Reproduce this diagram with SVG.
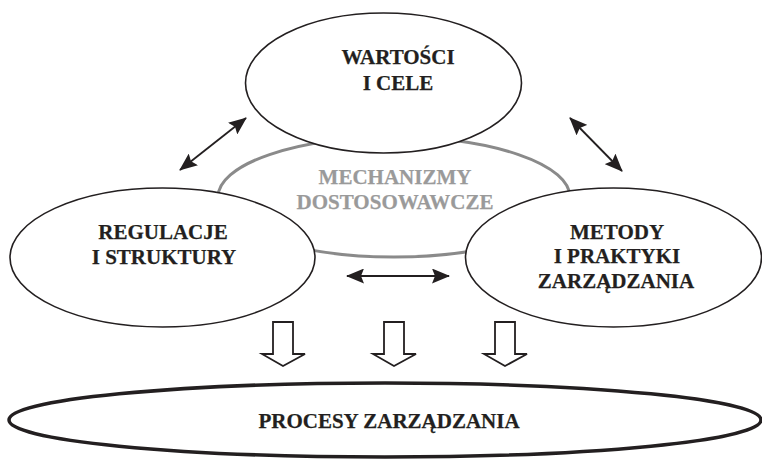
<svg xmlns="http://www.w3.org/2000/svg" width="762" height="459" viewBox="0 0 762 459">
<defs>
<style>
.node{fill:#fff;stroke:#231f20;stroke-width:1.6}
.t{font-family:"Liberation Serif","Times New Roman",serif;font-weight:bold;font-size:21px;fill:#231f20;text-anchor:middle;stroke:#231f20;stroke-width:0.25}
.g{fill:#9a9a9a;stroke:#9a9a9a}
.conn{stroke:#231f20;stroke-width:1.8;fill:none}
.block{fill:#fff;stroke:#231f20;stroke-width:1.8;stroke-linejoin:miter}
</style>
<marker id="ah" viewBox="0 0 18 15" refX="17" refY="7.5" markerWidth="18" markerHeight="15" markerUnits="userSpaceOnUse" orient="auto-start-reverse">
<path d="M0,0 L18,7.5 L0,15 L3,7.5 Z" fill="#231f20"/>
</marker>
</defs>
<rect width="762" height="459" fill="#fff"/>
<g id="mechanizmy">
<ellipse cx="394" cy="197" rx="176" ry="60" fill="none" stroke="#8a8a8a" stroke-width="3"/>
</g>
<g id="wartosci">
<ellipse class="node" cx="383.5" cy="83" rx="138" ry="70"/>
<text class="t" x="398" y="64">WARTOŚCI</text>
<text class="t" x="398" y="90">I CELE</text>
</g>
<g id="mechanizmy-label">
<text class="t g" x="395" y="184">MECHANIZMY</text>
<text class="t g" x="395" y="209">DOSTOSOWAWCZE</text>
</g>
<g id="regulacje">
<ellipse class="node" cx="162.5" cy="257.5" rx="152.5" ry="69.5"/>
<text class="t" x="163" y="239">REGULACJE</text>
<text class="t" x="164" y="264">I STRUKTURY</text>
</g>
<g id="metody">
<ellipse class="node" cx="613.5" cy="257.5" rx="148" ry="69.5"/>
<text class="t" x="617" y="239">METODY</text>
<text class="t" x="617" y="263">I PRAKTYKI</text>
<text class="t" x="616" y="288">ZARZĄDZANIA</text>
</g>
<g id="procesy">
<ellipse cx="385" cy="420" rx="376" ry="37" fill="#fff" stroke="#231f20" stroke-width="3.5"/>
<text class="t" x="389" y="428">PROCESY ZARZĄDZANIA</text>
</g>
<g id="connectors">
<line class="conn" x1="180" y1="170" x2="246" y2="118" marker-start="url(#ah)" marker-end="url(#ah)"/>
<line class="conn" x1="570" y1="118" x2="622" y2="171" marker-start="url(#ah)" marker-end="url(#ah)"/>
<line class="conn" x1="347" y1="276" x2="449" y2="276" marker-start="url(#ah)" marker-end="url(#ah)"/>
<path class="block" d="M273,322 H293 V354 H305 L283,366 L262,354 H273 Z"/>
<path class="block" d="M384,322 H404 V354 H416 L394,366 L373,354 H384 Z"/>
<path class="block" d="M495,322 H515 V354 H527 L505,366 L484,354 H495 Z"/>
</g>
</svg>
